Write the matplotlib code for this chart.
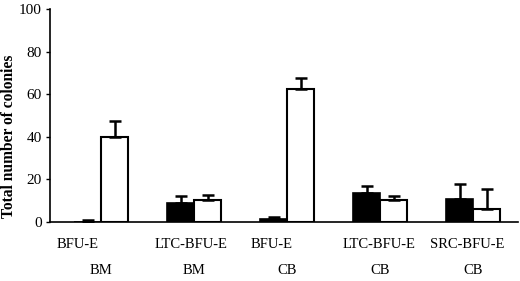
import numpy as np
import matplotlib
matplotlib.use("Agg")
import matplotlib.pyplot as plt

# data
cell_types = ["BFU-E", "LTC-BFU-E", "BFU-E", "LTC-BFU-E", "SRC-BFU-E"]
sources = ["BM", "BM", "CB", "CB", "CB"]
black_vals = [0.2, 9.0, 1.4, 13.8, 10.9]
black_err = [0.6, 3.3, 0.8, 3.3, 6.9]
white_vals = [40.0, 10.4, 62.3, 10.3, 6.2]
white_err = [7.3, 2.2, 5.4, 2.0, 9.3]
# small horizontal nudges of the first label line (in group units)
label_shift = [-0.25, -0.03, -0.17, -0.01, -0.06]

plt.rcParams["font.family"] = ["Liberation Serif", "DejaVu Serif"]

fig = plt.figure(figsize=(5.2, 2.81), dpi=100)
ax = fig.add_axes([0.096, 0.21, 0.9, 0.758])

x = np.arange(len(cell_types))
w = 0.29
ax.bar(x - w / 2, black_vals, w, color="black", edgecolor="black", linewidth=1.2,
       yerr=[np.zeros(len(x)), black_err], capsize=4.5,
       error_kw=dict(elinewidth=1.8, capthick=1.8, ecolor="black"))
ax.bar(x + w / 2, white_vals, w, color="white", edgecolor="black", linewidth=1.5,
       yerr=[np.zeros(len(x)), white_err], capsize=4.5,
       error_kw=dict(elinewidth=1.8, capthick=1.8, ecolor="black"))

ax.set_xlim(-0.55, 4.48)
ax.set_ylim(0, 100)
ax.set_yticks([0, 20, 40, 60, 80, 100])
ax.tick_params(axis="y", labelsize=11, length=3, width=1, direction="out", pad=3)
ax.set_xticks([])
for s in ["top", "right"]:
    ax.spines[s].set_visible(False)
ax.spines["left"].set_linewidth(1.2)
ax.spines["bottom"].set_linewidth(1.2)

for i in range(len(x)):
    ax.text(x[i] + label_shift[i], -7.5, cell_types[i], ha="center", va="top", fontsize=10.5)
    ax.text(x[i], -19.5, sources[i], ha="center", va="top", fontsize=10.5)

ax.set_ylabel("Total number of colonies", fontsize=11.2, fontweight="bold")
ax.yaxis.set_label_coords(-0.07, 0.40)

fig.savefig("out.png", dpi=100)
